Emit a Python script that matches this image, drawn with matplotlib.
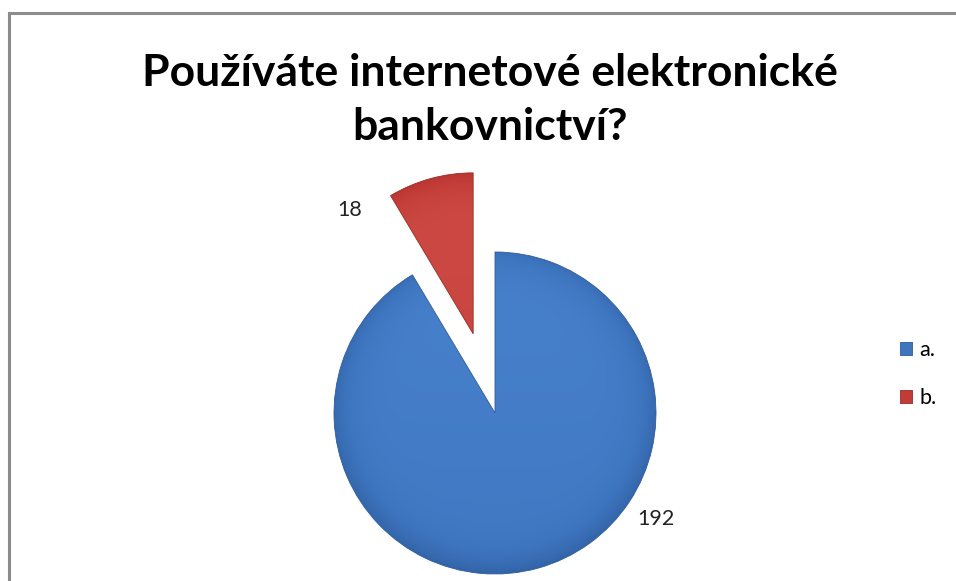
import numpy as np
import matplotlib
matplotlib.use("Agg")
import matplotlib.pyplot as plt
from matplotlib.patches import Rectangle
from matplotlib.colors import LinearSegmentedColormap

# Survey answers
categories = ["a.", "b."]
counts = [192, 18]
title = "Používáte internetové elektronické\nbankovnictví?"

colors = ["#3E75BF", "#C23B37"]
shade_dark = ["#2D5C9C", "#9A2A27"]
shade_light = ["#4C86D2", "#D2524C"]
FONT = ["Lato", "DejaVu Sans"]

W, H, DPI = 956, 581, 100
fig = plt.figure(figsize=(W / DPI, H / DPI), dpi=DPI)
fig.patch.set_facecolor("white")

# chart area frame
fig.patches.append(Rectangle((9 / W, -0.05), 1.1, (H - 13) / H + 0.05,
                             transform=fig.transFigure, fill=False,
                             edgecolor="#8C8C8C", linewidth=2.2))

fig.text(490 / W, 1 - 100 / H, title, ha="center", va="center",
         fontsize=32, fontweight="bold", family=FONT,
         linespacing=1.42, color="black")

# pie axes: radius 161 px, centre at (495, 413)
R = 161
L = 2.6
cx, cy = 495, 413
half = L * R
ax = fig.add_axes([(cx - half) / W, (H - cy - half) / H, 2 * half / W, 2 * half / H])
ax.axis("off")

wedges, _ = ax.pie(counts, colors=colors, startangle=90, counterclock=False,
                   explode=[0, 0.51], radius=1.0,
                   wedgeprops=dict(linewidth=0))

# soft shading inside each wedge
yy, xx = np.mgrid[-1:1:400j, -1:1:400j]
rr = np.hypot(xx, yy)
for w, dark, light, base in zip(wedges, shade_dark, shade_light, colors):
    cmap = LinearSegmentedColormap.from_list("s", [dark, base, light])
    c = np.array(w.center)
    val = 0.72 - 0.45 * np.clip(rr, 0, 1) ** 8 + 0.12 * yy
    val = np.clip(val, 0, 1)
    im = ax.imshow(val, cmap=cmap, vmin=0, vmax=1, origin="lower",
                   extent=[c[0] - 1, c[0] + 1, c[1] - 1, c[1] + 1],
                   interpolation="bilinear", zorder=w.get_zorder() + 0.1)
    im.set_clip_path(w)
    w.set_edgecolor(dark)
    w.set_linewidth(0.6)
    w.set_zorder(w.get_zorder() + 0.2)
    w.set_facecolor("none")

ax.set_xlim(-L, L)
ax.set_ylim(-L, L)
ax.set_aspect("equal")

# data labels
ax.text(-0.90, 1.26, str(counts[1]), ha="center", va="center",
        fontsize=15.5, family=FONT, color="#222222")
ax.text(1.00, -0.66, str(counts[0]), ha="center", va="center",
        fontsize=15.5, family=FONT, color="#222222")

# legend
handles = [Rectangle((0, 0), 1, 1, facecolor=c, edgecolor=d, linewidth=0.6)
           for c, d in zip(colors, shade_dark)]
fig.legend(handles, categories, loc="center left",
           bbox_to_anchor=(881 / W, 1 - 374 / H), frameon=False,
           handlelength=0.55, handleheight=0.55, handletextpad=0.35,
           labelspacing=1.3, prop=dict(family=FONT, size=15.5))

fig.savefig("out.png", dpi=DPI, facecolor="white")
